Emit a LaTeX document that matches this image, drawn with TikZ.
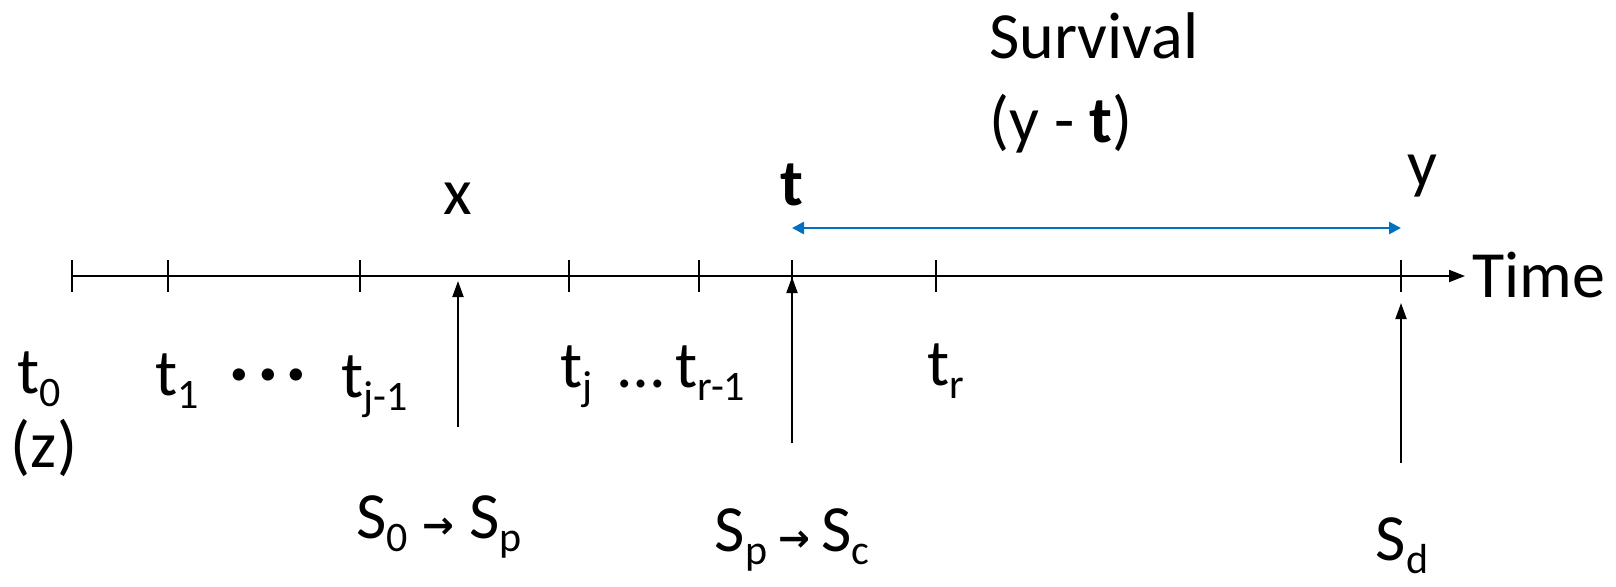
\documentclass[tikz,border=0pt]{standalone}
\usepackage{fontspec}
\setmainfont{Carlito}
\newfontfamily\symfont{DejaVu Sans}
\usetikzlibrary{arrows.meta, positioning}
\definecolor{survblue}{RGB}{0,112,192}
\newcommand{\starrow}{{\symfont\bfseries\fontsize{19}{19}\selectfont →}}
\newcommand{\lsub}[1]{\raisebox{-0.2em}{\fontsize{21}{21}\selectfont #1}}

\begin{document}
\begin{tikzpicture}[
  x=0.5pt, y=-0.5pt,
  font=\fontsize{33}{36}\selectfont,
  lbl/.style={inner sep=0pt, anchor=base},
  tickmark/.style={line width=0.7pt},
  axis/.style={-{Triangle[length=8pt, width=6pt]}, line width=1pt},
  evt/.style={-{Triangle[length=8pt, width=5.5pt]}, line width=1pt},
  survarrow/.style={{Triangle[length=6pt, width=6pt]}-{Triangle[length=6pt, width=6pt]}, line width=1.3pt, draw=survblue}
]
  \useasboundingbox (0,0) rectangle (1616,586);

  % time axis with its ticks
  \coordinate (A0) at (72,276);
  \coordinate (Aend) at (1465,276);
  \draw[axis] (A0) -- (Aend);
  \node[lbl, anchor=base west] (time) at (1472,297) {Time};
  \foreach \tx/\nm in {72/k0, 168/k1, 360/kjm, 569/kj, 699/krm, 792/kt, 936/kr, 1401/ky}{
    \draw[tickmark] (\tx,260) -- (\tx,292);
    \coordinate (\nm) at (\tx,276);
  }

  % tick labels
  \node[lbl] (t0) at (39,393) {t\lsub{0}};
  \node[lbl] (z) at (44,467) {(z)};
  \node[lbl] (t1) at (177,395) {t\lsub{1}};
  \node[lbl] (dots) at (268,393) {\textbf{·\,·\,·}};
  \node[lbl] (tjm) at (375,397) {t\lsub{j-1}};
  \node[lbl] (tjr) at (653,387) {t\lsub{j} \,…\,t\lsub{r-1}};
  \node[lbl] (tr) at (946,385) {t\lsub{r}};

  % events
  \coordinate (xs) at (458,427);
  \coordinate (xe) at (458,281);
  \coordinate (ts) at (792,443);
  \coordinate (te) at (792,277);
  \coordinate (ys) at (1401,463);
  \coordinate (ye) at (1401,303);
  \draw[evt] (xs) -- (xe);
  \draw[evt] (ts) -- (te);
  \draw[evt] (ys) -- (ye);
  \node[lbl] (xl) at (458,214) {x};
  \node[lbl] (tl) at (792,205) {\textbf{t}};
  \node[lbl] (yl) at (1422,186) {y};
  \node[lbl] (s0p) at (439,538) {S\lsub{0} \starrow{} S\lsub{p}};
  \node[lbl] (spc) at (792,551) {S\lsub{p}\,\starrow\,S\lsub{c}};
  \node[lbl] (sd) at (1402,560) {S\lsub{d}};

  % survival span
  \coordinate (sL) at (792,228);
  \coordinate (sR) at (1401,228);
  \draw[survarrow] (sL) -- (sR);
  \node[lbl, anchor=base west] (surv) at (989,58) {Survival};
  \node[lbl, anchor=base west] (survyt) at (989,142) {(y - \textbf{t})};
\end{tikzpicture}
\end{document}
